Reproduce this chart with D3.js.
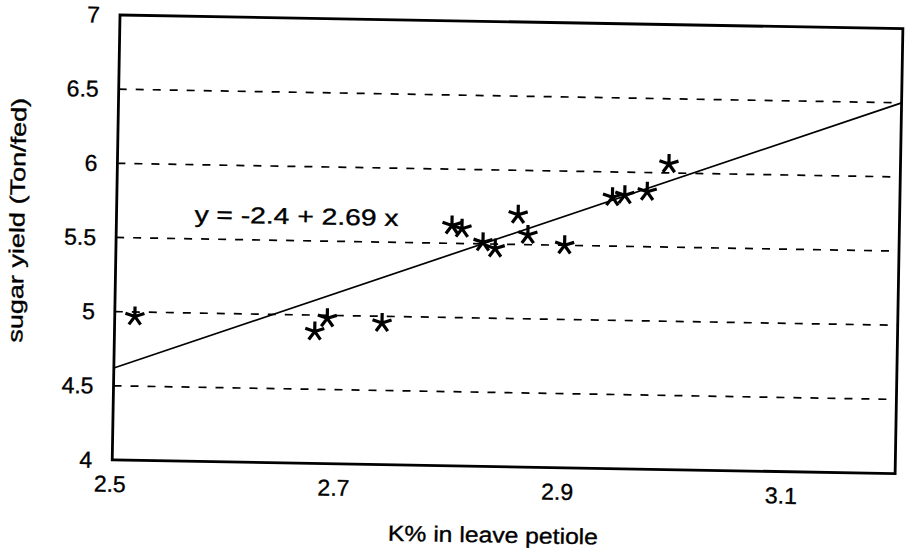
<!DOCTYPE html>
<html>
<head>
<meta charset="utf-8">
<script src="https://cdn.jsdelivr.net/npm/d3@7"></script>
<style>
  body { margin: 0; background: #fff; }
  text { font-family: "Liberation Sans", Arial, sans-serif; fill: #000; stroke: #000; stroke-width: 0.35px; }
</style>
</head>
<body>
<div id="chart-area"></div>
<script>
// K% in leave petiole vs sugar yield
var kPct = [2.518, 2.679, 2.690, 2.739, 2.800, 2.809, 2.828, 2.839, 2.859, 2.868, 2.901, 2.943, 2.954, 2.974, 2.993];
var sugarYield = [4.97, 4.89, 4.98, 4.955, 5.62, 5.60, 5.51, 5.47, 5.70, 5.565, 5.50, 5.83, 5.845, 5.87, 6.06];
var fitX = [2.5, 3.2];
var fitY = [4.62, 6.5];
var xTicks = [2.5, 2.7, 2.9, 3.1];
var yTicks = [4, 4.5, 5, 5.5, 6, 6.5, 7];
var gridVals = [4.5, 5, 5.5, 6, 6.5];
var equation = "y = -2.4 + 2.69 x";

var width = 783, height = 445;

var svg = d3.select("#chart-area").append("svg")
    .attr("width", 906)
    .attr("height", 553);

// the scanned figure sits slightly tilted
var g = svg.append("g")
    .attr("transform", "translate(120,15) rotate(1)");

var x = d3.scaleLinear().domain([2.5, 3.2]).range([0, width]);
var y = d3.scaleLinear().domain([4, 7]).range([height, 0]);

// dashed grid
g.selectAll(".grid").data(gridVals).enter()
    .append("line")
    .attr("class", "grid")
    .attr("x1", 0).attr("x2", width)
    .attr("y1", d => y(d)).attr("y2", d => y(d))
    .attr("stroke", "#000")
    .attr("stroke-width", 1.7)
    .attr("stroke-dasharray", "8,9");

// regression line
var line = d3.line().x(d => x(d[0])).y(d => y(d[1]));
g.append("path")
    .datum(d3.zip(fitX, fitY))
    .attr("d", line)
    .attr("fill", "none")
    .attr("stroke", "#000")
    .attr("stroke-width", 1.7);

// plot frame
g.append("rect")
    .attr("x", 0).attr("y", 0)
    .attr("width", width).attr("height", height)
    .attr("fill", "none")
    .attr("stroke", "#000")
    .attr("stroke-width", 2.8);

// asterisk markers, 5 arms
var r = 10;
var starPath = "";
for (var i = 0; i < 5; i++) {
    var a = -Math.PI / 2 + i * 2 * Math.PI / 5;
    starPath += "M0,0L" + (r * Math.cos(a)).toFixed(2) + "," + (r * Math.sin(a)).toFixed(2);
}
g.selectAll(".pt").data(d3.zip(kPct, sugarYield)).enter()
    .append("path")
    .attr("class", "pt")
    .attr("transform", d => "translate(" + x(d[0]) + "," + y(d[1]) + ")")
    .attr("d", starPath)
    .attr("fill", "none")
    .attr("stroke", "#000")
    .attr("stroke-width", 3.2);

// y tick labels
g.selectAll(".ylab").data(yTicks).enter()
    .append("text")
    .attr("class", "ylab")
    .attr("x", -20)
    .attr("y", d => y(d))
    .attr("dy", "0.35em")
    .attr("text-anchor", "end")
    .style("font-size", "23px")
    .text(d => d);

// x tick labels
g.selectAll(".xlab").data(xTicks).enter()
    .append("text")
    .attr("class", "xlab")
    .attr("x", d => x(d) - 2)
    .attr("y", height + 32)
    .attr("text-anchor", "middle")
    .style("font-size", "23px")
    .text(d => d);

// equation
g.append("text")
    .attr("x", 78)
    .attr("y", 206)
    .attr("textLength", 204)
    .attr("lengthAdjust", "spacingAndGlyphs")
    .style("font-size", "23px")
    .text(equation);

// axis titles
g.append("text")
    .attr("x", 382)
    .attr("y", 521)
    .attr("text-anchor", "middle")
    .attr("textLength", 210)
    .attr("lengthAdjust", "spacingAndGlyphs")
    .style("font-size", "22px")
    .text("K% in leave petiole");

g.append("text")
    .attr("transform", "translate(-92,207) rotate(-90)")
    .attr("text-anchor", "middle")
    .attr("textLength", 245)
    .attr("lengthAdjust", "spacingAndGlyphs")
    .style("font-size", "21px")
    .text("sugar yield (Ton/fed)");
</script>
</body>
</html>
